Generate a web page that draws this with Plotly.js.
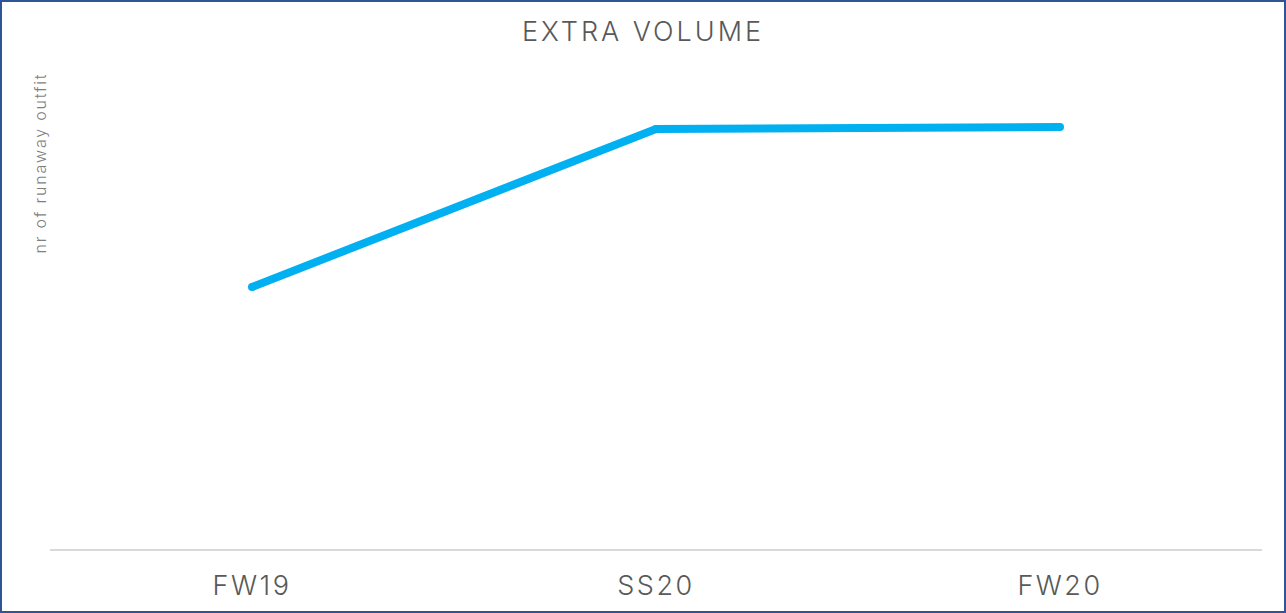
<!DOCTYPE html>
<html>
<head>
<meta charset="utf-8">
<script src="https://cdn.plot.ly/plotly-3.0.1.min.js"></script>
<style>
html,body{margin:0;padding:0;background:#fff;}
#wrap{position:relative;width:1286px;height:613px;}
#chart{position:absolute;left:0;top:0;width:1286px;height:613px;}
#frame{position:absolute;left:0;top:0;width:1286px;height:613px;box-sizing:border-box;border:2px solid #2F5597;pointer-events:none;}
#chart .gtitle{letter-spacing:3px;}
#chart .xtick text{letter-spacing:2.5px;}
#chart .annotation-text{letter-spacing:1.8px;}
</style>
</head>
<body>
<div id="wrap"><div id="chart"></div><div id="frame"></div></div>
<script>
var categories = ["FW19", "SS20", "FW20"];
var values = [262, 420, 422];
var chartTitle = "EXTRA VOLUME";
var yTitle = "nr of runaway outfit";

var trace = {
  x: categories,
  y: values,
  type: "scatter",
  mode: "lines+markers",
  line: {color: "#00B0F0", width: 8},
  marker: {color: "#00B0F0", size: 8},
  hoverinfo: "x+y"
};

var fontFam = "Inter, 'Open Sans', sans-serif";

var layout = {
  width: 1286, height: 613,
  margin: {l: 50, r: 24, t: 49, b: 64},
  paper_bgcolor: "#ffffff",
  plot_bgcolor: "#ffffff",
  showlegend: false,
  title: {
    text: chartTitle,
    x: 0.5, xref: "container", xanchor: "center",
    y: 1 - 32/613, yanchor: "middle",
    font: {family: fontFam, size: 27, color: "#595959", weight: 300}
  },
  xaxis: {
    type: "category",
    range: [-0.5, 2.5],
    showgrid: false,
    zeroline: false,
    showline: true,
    linecolor: "#d9d9d9",
    linewidth: 2,
    ticks: "",
    tickfont: {family: fontFam, size: 27, color: "#595959", weight: 300},
    ticklabelstandoff: 12
  },
  yaxis: {
    range: [0, 500],
    showgrid: false,
    zeroline: false,
    showline: false,
    showticklabels: false,
    ticks: ""
  },
  annotations: [{
    text: yTitle,
    textangle: -90,
    xref: "paper", yref: "paper",
    x: (40 - 50) / 1212, y: (549 - 89) / 500,
    xanchor: "center", yanchor: "top",
    showarrow: false,
    font: {family: fontFam, size: 16, color: "#7f7f7f", weight: 300}
  }]
};

Plotly.newPlot("chart", [trace], layout, {displayModeBar: false, staticPlot: true});
</script>
</body>
</html>
